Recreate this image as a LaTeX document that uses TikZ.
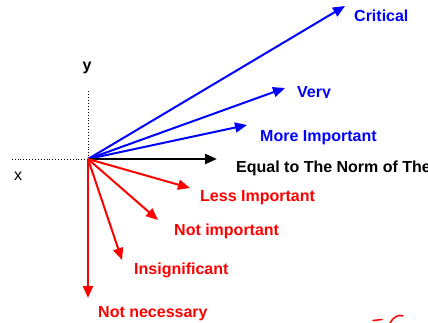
\documentclass[tikz,border=0pt]{standalone}
\usepackage{fontspec}
\setmainfont{Liberation Sans}
\usetikzlibrary{arrows.meta}
\definecolor{vblue}{RGB}{0,0,255}
\definecolor{vred}{RGB}{255,0,0}
\tikzset{
  vec/.style={line width=2pt,-{Triangle[length=12pt,width=10pt]}},
  axis/.style={line width=0.9pt,dotted},
  lbl/.style={anchor=base west,inner sep=0pt,font=\fontsize{16}{18}\selectfont\bfseries}
}
\begin{document}
\begin{tikzpicture}[x=1pt,y=-1pt]
\useasboundingbox (0,0) rectangle (428,322);
\clip (0,0) rectangle (428,322);
\fill[white] (0,0) rectangle (428,322);
% origin and tips
\coordinate (O) at (88,159);
\coordinate (ytop) at (88,91);
\coordinate (xleft) at (10,159);
\coordinate (tcrit) at (345,6);
\coordinate (tvery) at (285,88);
\coordinate (tmore) at (247,125);
\coordinate (tequal) at (217,159);
\coordinate (tless) at (190,188);
\coordinate (tnotimp) at (158,220);
\coordinate (tinsig) at (122,260);
\coordinate (tnotnec) at (88,298);
% axes
\draw[axis] (O) -- (ytop);
\draw[axis] (O) -- (xleft);
\node[lbl] (ylab) at (82.5,70.7) {y};
\node[lbl,font=\fontsize{16}{18}\selectfont] (xlab) at (14,180.7) {x};
% vectors
\draw[vec,vblue] (O) -- (tcrit);
\draw[vec,vblue] (O) -- (tvery);
\draw[vec,vblue] (O) -- (tmore);
\draw[vec,black,line width=2.4pt] (O) -- (tequal);
\draw[vec,vred] (O) -- (tless);
\draw[vec,vred] (O) -- (tnotimp);
\draw[vec,vred] (O) -- (tinsig);
\draw[vec,vred] (O) -- (tnotnec);
% labels
\node[lbl,text=vblue] (lcrit) at (354,21.7) {Critical};
\begin{scope}
\clip (280,70) rectangle (360,97);
\node[lbl,text=vblue] (lvery) at (297,97) {Very};
\end{scope}
\node[lbl,text=vblue] (lmore) at (260,141.7) {More Important};
\node[lbl,text=black] (lequal) at (236,172) {Equal to The Norm of The};
\node[lbl,text=vred] (lless) at (200,201.3) {Less Important};
\node[lbl,text=vred] (lnotimp) at (174,235.7) {Not important};
\node[lbl,text=vred] (linsig) at (134,274.3) {Insignificant};
\node[lbl,text=vred] (lnotnec) at (98,317.7) {Not necessary};
% stray red stroke at bottom right
\draw[vred,line width=1.5pt,line cap=round] (373,320.5) -- (382,319.5);
\draw[vred,line width=1.5pt,line cap=round] (390,323) .. controls (393,317) and (399,314) .. (403,316);
\end{tikzpicture}
\end{document}
